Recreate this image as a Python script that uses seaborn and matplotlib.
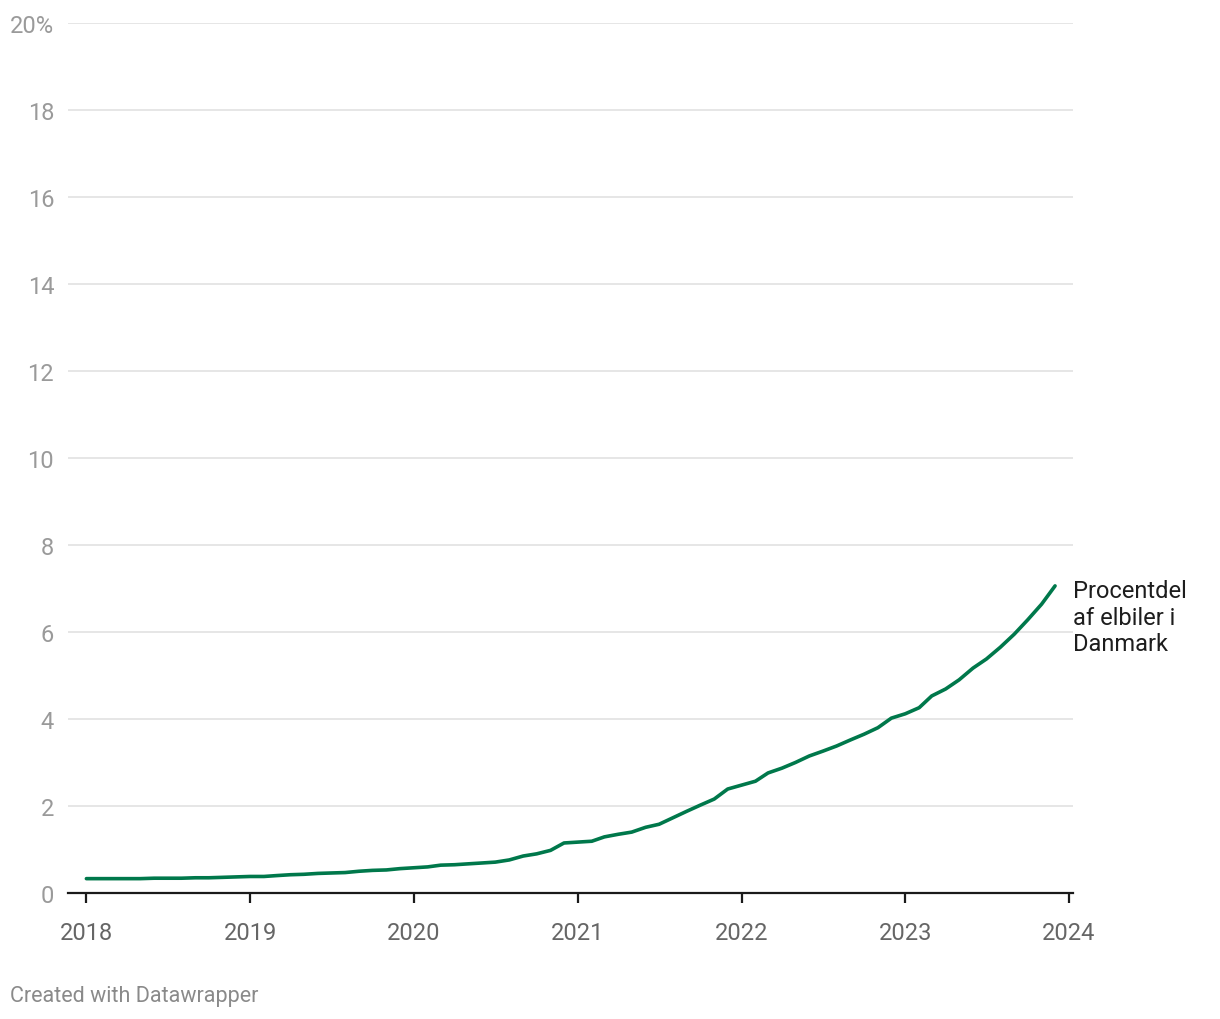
import pandas as pd
import matplotlib
matplotlib.use("Agg")
import matplotlib.pyplot as plt
import matplotlib.dates as mdates
import seaborn as sns

# monthly share of electric cars in Denmark (%), Jan 2018 - Dec 2023
share_2018 = [0.33, 0.33, 0.33, 0.33, 0.33, 0.34, 0.34, 0.34, 0.35, 0.35, 0.36, 0.37]
share_2019 = [0.38, 0.38, 0.40, 0.42, 0.43, 0.45, 0.46, 0.47, 0.50, 0.52, 0.53, 0.56]
share_2020 = [0.58, 0.60, 0.64, 0.65, 0.67, 0.69, 0.71, 0.76, 0.85, 0.90, 0.98, 1.15]
share_2021 = [1.17, 1.19, 1.29, 1.35, 1.40, 1.51, 1.58, 1.73, 1.88, 2.02, 2.16, 2.39]
share_2022 = [2.48, 2.57, 2.76, 2.87, 3.00, 3.15, 3.26, 3.38, 3.52, 3.65, 3.80, 4.02]
share_2023 = [4.12, 4.26, 4.53, 4.69, 4.90, 5.17, 5.38, 5.65, 5.95, 6.28, 6.64, 7.06]
years = [2018, 2019, 2020, 2021, 2022, 2023, 2024]
y_ticks = [0, 2, 4, 6, 8, 10, 12, 14, 16, 18, 20]
series_label = "Procentdel\naf elbiler i\nDanmark"

values = share_2018 + share_2019 + share_2020 + share_2021 + share_2022 + share_2023
df = pd.DataFrame({
    "date": pd.date_range("2018-01-01", periods=len(values), freq="MS"),
    "share": values,
})

sns.set_theme(style="white")
plt.rcParams["font.family"] = ["Roboto", "DejaVu Sans"]

fig = plt.figure(figsize=(12.2, 10.2), dpi=100)
ax = fig.add_axes([68 / 1220, 126 / 1020, 1005 / 1220, 870 / 1020])

sns.lineplot(data=df, x="date", y="share", ax=ax, color="#00784b", linewidth=2.6,
             solid_capstyle="round", zorder=3)

ax.set_ylim(0, 20)
ax.set_xlim(pd.Timestamp("2017-11-21"), pd.Timestamp("2024-01-10"))
ax.set_yticks(y_ticks)
ax.set_yticklabels([f"{v}%" if v == 20 else str(v) for v in y_ticks])
ax.set_xticks([pd.Timestamp(f"{y}-01-01") for y in years])
ax.xaxis.set_major_formatter(mdates.DateFormatter("%Y"))
ax.set_xlabel("")
ax.set_ylabel("")

ax.grid(axis="y", color="#e2e2e2", linewidth=1.2)
ax.grid(axis="x", visible=False)
for s in ["top", "right", "left"]:
    ax.spines[s].set_visible(False)
ax.spines["bottom"].set_color("#1a1a1a")
ax.spines["bottom"].set_linewidth(1.6)
ax.spines["bottom"].set_zorder(4)

ax.tick_params(axis="y", length=0, pad=10, labelsize=17, labelcolor="#9a9a9a")
ax.tick_params(axis="x", length=7, width=1.6, color="#1a1a1a", pad=13,
               labelsize=17, labelcolor="#666666", bottom=True)

last = df.iloc[-1]
ax.annotate(series_label, xy=(last["date"], last["share"]), xytext=(13, 5),
            textcoords="offset points", ha="left", va="top", fontsize=17,
            color="#1d1d1d", linespacing=1.2, annotation_clip=False)

fig.text(10 / 1220, 1 - 997 / 1020, "Created with Datawrapper", ha="left", va="center",
         fontsize=15.5, color="#8a8a8a")

fig.savefig("out.png", dpi=100, facecolor="white")
